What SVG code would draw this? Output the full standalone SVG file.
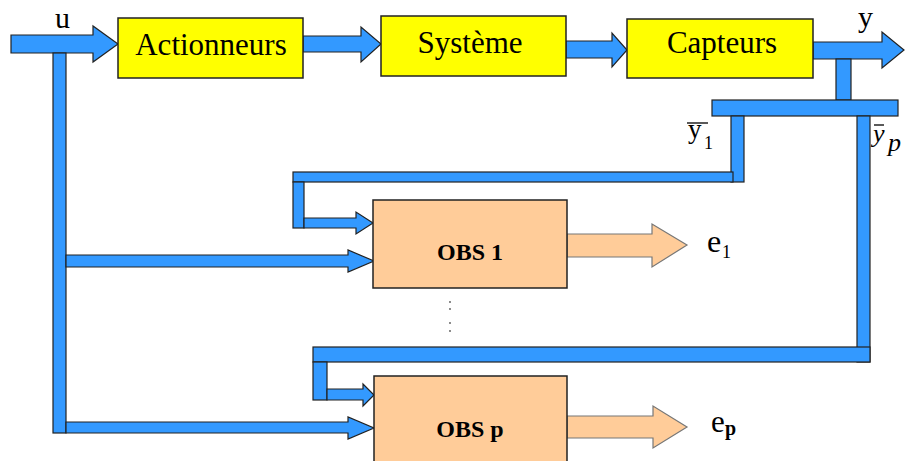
<svg xmlns="http://www.w3.org/2000/svg" width="906" height="461" viewBox="0 0 906 461">
<style>
.blue{fill:#3399ff;stroke:#222;stroke-width:1.2}
.ybox{fill:#ffff00;stroke:#222;stroke-width:1.5}
.obox{fill:#ffcc99;stroke:#222;stroke-width:1.5}
.oarr{fill:#ffcc99;stroke:#777;stroke-width:1.2}
.t{font-family:"Liberation Serif","Times New Roman",serif;fill:#000}
.big{font-size:31px}
.obs{font-size:24px;font-weight:bold}
</style>
<rect width="906" height="461" fill="#fff"/>
<g id="connectors">
  <polygon class="blue" points="11,35 93,35 93,26 118,44 93,62 93,53 11,53"/>
  <rect class="blue" x="53" y="53" width="13" height="380"/>
  <polygon class="blue" points="303,36 361,36 361,27 381,44 361,62 361,52 303,52"/>
  <polygon class="blue" points="566,41 612,41 612,33 627,50 612,67 612,58 566,58"/>
  <polygon class="blue" points="813,42 882,42 882,32 904,50 882,68 882,59 813,59"/>
  <rect class="blue" x="836" y="59" width="15" height="41"/>
  <rect class="blue" x="712" y="100" width="186" height="16"/>
  <rect class="blue" x="731" y="116" width="13" height="66"/>
  <rect class="blue" x="293" y="172" width="440" height="10"/>
  <rect class="blue" x="293" y="182" width="11" height="46"/>
  <polygon class="blue" points="304,218 356,218 356,212 373,223 356,234 356,228 304,228"/>
  <polygon class="blue" points="66,255 348,255 348,250 374,261 348,272 348,267 66,267"/>
  <rect class="blue" x="857" y="116" width="13" height="246"/>
  <rect class="blue" x="313" y="347" width="557" height="15"/>
  <rect class="blue" x="313" y="362" width="14" height="38"/>
  <polygon class="blue" points="327,389 363,389 363,384 374,395 363,406 363,400 327,400"/>
  <polygon class="blue" points="66,422 348,422 348,417 374,428 348,439 348,433 66,433"/>
  <polygon class="oarr" points="567,234 652,234 652,224 687,245 652,267 652,257 567,257"/>
  <polygon class="oarr" points="567,416 653,416 653,406 687,427 653,448 653,438 567,438"/>
</g>
<g id="actionneurs">
  <rect class="ybox" x="118" y="18" width="185" height="60"/>
  <text class="t big" x="211" y="55" text-anchor="middle">Actionneurs</text>
</g>
<g id="systeme">
  <rect class="ybox" x="381" y="16" width="185" height="60"/>
  <text class="t big" x="470" y="53" text-anchor="middle">Système</text>
</g>
<g id="capteurs">
  <rect class="ybox" x="627" y="19" width="186" height="59"/>
  <text class="t big" x="722" y="53" text-anchor="middle">Capteurs</text>
</g>
<g id="obs1">
  <rect class="obox" x="373" y="200" width="194" height="88"/>
  <text class="t obs" x="470" y="260" text-anchor="middle">OBS 1</text>
</g>
<g id="obsp">
  <rect class="obox" x="374" y="376" width="193" height="95"/>
  <text class="t obs" x="470" y="437" text-anchor="middle">OBS p</text>
</g>
<g id="labels">
  <text class="t" x="55" y="28" font-size="30">u</text>
  <text class="t" x="858" y="27" font-size="30">y</text>
  <text class="t" x="688" y="138" font-size="27">y</text>
  <text class="t" x="704" y="149" font-size="18">1</text>
  <line x1="687" y1="123" x2="708" y2="123" stroke="#000" stroke-width="1.3"/>
  <text class="t" x="873" y="142" font-size="26" font-style="italic">y</text>
  <text class="t" x="888" y="151" font-size="26" font-style="italic">p</text>
  <line x1="874" y1="125" x2="884" y2="125" stroke="#000" stroke-width="1.3"/>
  <text class="t" x="707" y="252" font-size="32">e</text>
  <text class="t" x="722" y="258" font-size="18">1</text>
  <text class="t" x="711" y="432" font-size="31">e</text>
  <text class="t" x="725" y="435" font-size="20" font-weight="bold">p</text>
  <g fill="#555">
    <circle cx="450" cy="302" r="0.9"/>
    <circle cx="450" cy="309" r="0.9"/>
    <circle cx="450" cy="323" r="0.9"/>
    <circle cx="450" cy="331" r="0.9"/>
  </g>
</g>
</svg>
